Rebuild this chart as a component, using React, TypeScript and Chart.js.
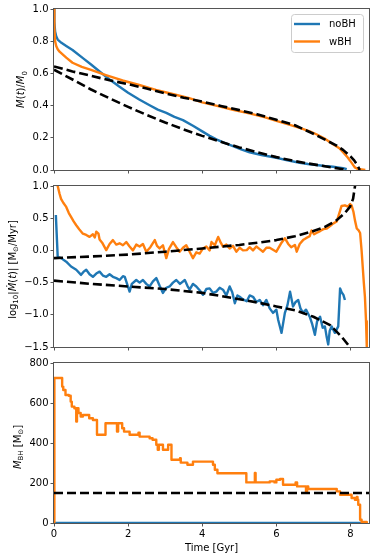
import React, { useEffect, useRef } from 'react';
import { Chart, registerables } from 'chart.js';

Chart.register(...registerables);

const BLUE = '#1f77b4';
const ORANGE = '#ff7f0e';
const DASH = '#000000';

const SERIES_NAMES = ['noBH', 'wBH'];
const TIME_TICKS = [0, 2, 4, 6, 8];
const MASS_TICKS = [0, 0.2, 0.4, 0.6, 0.8, 1.0];
const MDOT_TICKS = [-1.5, -1.0, -0.5, 0.0, 0.5, 1.0];
const MBH_TICKS = [0, 200, 400, 600, 800];

// Panel 1: M(t)/M0
const T_MASS_NOBH = [0, 0.01, 0.03, 0.06, 0.1, 0.2, 0.33, 0.5, 0.78, 1.0, 1.23, 1.5, 1.75, 2.0, 2.3, 2.58, 2.8, 3.03, 3.25, 3.48, 3.75, 4.0, 4.2, 4.38, 4.6, 4.83, 5.05, 5.28, 5.6, 6.0, 6.3, 6.63, 6.85, 7.08, 7.3, 7.53, 7.7, 7.8, 7.9];
const MASS_NOBH = [1.0, 0.92, 0.86, 0.83, 0.81, 0.79, 0.77, 0.745, 0.695, 0.655, 0.612, 0.562, 0.52, 0.48, 0.438, 0.402, 0.375, 0.355, 0.33, 0.31, 0.275, 0.24, 0.212, 0.19, 0.168, 0.148, 0.128, 0.11, 0.093, 0.076, 0.06, 0.045, 0.037, 0.031, 0.025, 0.02, 0.015, 0.012, 0.005];
const T_MASS_WBH = [0, 0.01, 0.03, 0.06, 0.1, 0.15, 0.33, 0.5, 0.75, 1.0, 1.4, 1.85, 2.3, 2.75, 3.2, 3.65, 4.0, 4.4, 4.83, 5.3, 5.7, 6.0, 6.3, 6.63, 6.9, 7.08, 7.3, 7.53, 7.7, 7.8, 7.9, 7.99, 8.06, 8.12, 8.2, 8.3, 8.4];
const MASS_WBH = [1.0, 0.88, 0.8, 0.77, 0.75, 0.735, 0.698, 0.666, 0.64, 0.622, 0.59, 0.556, 0.528, 0.498, 0.472, 0.446, 0.42, 0.398, 0.374, 0.35, 0.327, 0.305, 0.285, 0.262, 0.24, 0.222, 0.196, 0.16, 0.135, 0.11, 0.085, 0.058, 0.035, 0.016, 0.006, 0.003, 0.0];
const T_MASS_FIT_WBH = [0, 0.5, 1.0, 1.5, 2.0, 2.5, 3.0, 3.5, 4.0, 4.5, 5.0, 5.5, 6.0, 6.5, 7.0, 7.3, 7.6, 7.8, 8.0, 8.1, 8.2, 8.25];
const MASS_FIT_WBH = [0.643, 0.612, 0.585, 0.557, 0.533, 0.506, 0.476, 0.449, 0.425, 0.398, 0.372, 0.345, 0.312, 0.278, 0.225, 0.19, 0.155, 0.125, 0.085, 0.06, 0.025, 0.0];
const T_MASS_FIT_NOBH = [0, 0.5, 1.0, 1.5, 2.0, 2.5, 3.0, 3.5, 4.0, 4.5, 5.0, 5.5, 6.0, 6.5, 7.0, 7.5, 7.8, 7.9];
const MASS_FIT_NOBH = [0.623, 0.562, 0.5, 0.445, 0.392, 0.342, 0.295, 0.252, 0.212, 0.175, 0.14, 0.11, 0.08, 0.055, 0.035, 0.016, 0.005, 0.0];

// Panel 2: log10 |dM/dt|
const T_MDOT_WBH = [0.05, 0.1, 0.15, 0.19, 0.25, 0.33, 0.4, 0.46, 0.53, 0.6, 0.68, 0.78, 0.87, 0.96, 1.05, 1.1, 1.14, 1.2, 1.23, 1.3, 1.41, 1.5, 1.59, 1.68, 1.77, 1.86, 1.95, 2.04, 2.13, 2.22, 2.31, 2.4, 2.49, 2.6, 2.72, 2.78, 2.85, 2.94, 3.03, 3.1, 3.21, 3.3, 3.39, 3.48, 3.57, 3.66, 3.75, 3.84, 3.93, 4.02, 4.11, 4.2, 4.25, 4.34, 4.43, 4.5, 4.56, 4.65, 4.74, 4.83, 4.92, 5.01, 5.1, 5.2, 5.28, 5.37, 5.46, 5.55, 5.64, 5.73, 5.82, 5.91, 6.0, 6.05, 6.14, 6.23, 6.32, 6.4, 6.5, 6.55, 6.63, 6.72, 6.8, 6.9, 6.95, 7.02, 7.08, 7.18, 7.27, 7.36, 7.45, 7.54, 7.63, 7.7, 7.76, 7.85, 7.93, 7.99, 8.03, 8.08, 8.12, 8.17, 8.22, 8.26, 8.3, 8.33, 8.36, 8.39, 8.42, 8.44, 8.46];
const MDOT_WBH = [1.3, 1.0, 0.88, 0.8, 0.74, 0.675, 0.58, 0.52, 0.45, 0.39, 0.33, 0.26, 0.24, 0.21, 0.25, 0.2, 0.29, 0.26, 0.17, 0.12, 0.005, 0.1, 0.16, 0.09, 0.11, 0.08, 0.13, 0.06, 0.0, 0.09, 0.06, 0.1, -0.02, 0.05, 0.16, 0.07, 0.03, 0.08, -0.12, 0.02, 0.13, 0.05, -0.02, 0.04, 0.08, -0.02, -0.12, -0.03, -0.05, 0.03, 0.06, 0.0, 0.13, 0.08, 0.21, 0.12, 0.06, 0.09, 0.03, 0.07, -0.02, 0.04, 0.0, 0.005, 0.05, 0.0, 0.06, 0.02, -0.02, 0.04, 0.04, 0.01, -0.02, 0.03, 0.12, 0.19, 0.1, 0.05, 0.085, -0.02, 0.1, 0.16, 0.19, 0.22, 0.31, 0.25, 0.27, 0.3, 0.33, 0.34, 0.38, 0.42, 0.45, 0.58, 0.69, 0.7, 0.68, 0.72, 0.7, 0.6, 0.47, 0.34, 0.31, 0.27, 0.0, -0.25, -0.5, -0.72, -1.1, -1.49, -1.8];
const T_MDOT_NOBH = [0.05, 0.1, 0.19, 0.33, 0.46, 0.6, 0.73, 0.8, 0.87, 0.96, 1.05, 1.14, 1.23, 1.32, 1.41, 1.5, 1.59, 1.68, 1.77, 1.86, 1.91, 2.04, 2.1, 2.22, 2.31, 2.4, 2.49, 2.58, 2.67, 2.76, 2.85, 2.94, 3.03, 3.12, 3.21, 3.3, 3.4, 3.53, 3.6, 3.66, 3.75, 3.84, 3.93, 4.02, 4.11, 4.2, 4.29, 4.38, 4.47, 4.56, 4.65, 4.74, 4.81, 4.88, 4.95, 5.01, 5.1, 5.2, 5.28, 5.37, 5.46, 5.55, 5.64, 5.73, 5.82, 5.91, 6.0, 6.05, 6.14, 6.23, 6.3, 6.37, 6.45, 6.52, 6.59, 6.65, 6.72, 6.8, 6.9, 6.97, 7.04, 7.1, 7.18, 7.25, 7.31, 7.36, 7.4, 7.44, 7.49, 7.58, 7.67, 7.72, 7.76, 7.81, 7.85];
const MDOT_NOBH = [0.55, -0.1, -0.12, -0.175, -0.25, -0.3, -0.38, -0.33, -0.3, -0.37, -0.41, -0.36, -0.33, -0.39, -0.41, -0.37, -0.41, -0.43, -0.46, -0.4, -0.41, -0.64, -0.52, -0.46, -0.5, -0.46, -0.52, -0.56, -0.48, -0.43, -0.55, -0.66, -0.58, -0.56, -0.5, -0.46, -0.52, -0.46, -0.55, -0.61, -0.52, -0.56, -0.62, -0.69, -0.6, -0.59, -0.66, -0.64, -0.58, -0.61, -0.7, -0.56, -0.65, -0.82, -0.7, -0.72, -0.76, -0.79, -0.7, -0.72, -0.8, -0.77, -0.85, -0.77, -0.9, -0.97, -0.92, -1.08, -1.28, -0.97, -0.85, -0.64, -0.87, -0.8, -0.77, -0.9, -0.97, -0.92, -1.03, -1.15, -1.31, -1.1, -1.03, -1.2, -1.18, -1.35, -1.46, -1.25, -1.18, -1.28, -1.18, -0.59, -0.65, -0.69, -0.77];
const T_MDOT_FIT_WBH = [0, 1, 2, 3, 4, 5, 5.5, 6, 6.5, 7.0, 7.3, 7.63, 7.85, 7.99, 8.07, 8.12, 8.17, 8.2];
const MDOT_FIT_WBH = [-0.12, -0.095, -0.065, -0.02, 0.03, 0.085, 0.12, 0.16, 0.22, 0.3, 0.36, 0.47, 0.58, 0.68, 0.8, 0.99, 1.2, 1.4];
const T_MDOT_FIT_NOBH = [0, 1, 2, 3, 4, 4.83, 5.5, 6, 6.5, 7.0, 7.45, 7.76, 7.94, 8.05];
const MDOT_FIT_NOBH = [-0.47, -0.52, -0.56, -0.6, -0.66, -0.74, -0.81, -0.87, -0.93, -1.03, -1.16, -1.34, -1.47, -1.57];

// Panel 3: M_BH
const T_MBH_WBH = [0, 0.01, 0.22, 0.25, 0.31, 0.4, 0.45, 0.48, 0.55, 0.6, 0.62, 0.66, 0.72, 0.78, 0.95, 1.05, 1.16, 1.39, 1.7, 1.73, 1.84, 1.89, 2.04, 2.28, 2.31, 2.58, 2.66, 2.76, 2.8, 2.83, 2.94, 3.08, 3.15, 3.17, 3.4, 3.42, 3.6, 3.75, 4.29, 4.34, 4.41, 5.19, 5.42, 5.44, 5.82, 5.95, 6.0, 6.1, 6.18, 6.52, 6.56, 6.8, 6.83, 6.86, 7.63, 7.72, 8.03, 8.12, 8.17, 8.19, 8.21, 8.26, 8.3, 8.44];
const MBH_WBH = [0, 725, 682, 665, 640, 636, 607, 582, 574, 507, 574, 550, 532, 540, 524, 515, 441, 499, 457, 499, 474, 457, 441, 452, 432, 424, 416, 391, 366, 391, 366, 391, 391, 316, 324, 302, 291, 307, 291, 266, 249, 203, 250, 203, 208, 203, 216, 220, 191, 203, 183, 158, 183, 170, 158, 141, 125, 116, 130, 116, 91, 16, 5, 0];
const T_MBH_NOBH = [0, 8.3];
const MBH_NOBH = [0, 0];
const T_MBH_REF = [0, 8.5];
const MBH_REF = [150, 150];

const pts = (xs: number[], ys: number[]) => xs.map((x, i) => ({ x, y: ys[i] }));

const FONT = '"DejaVu Sans", sans-serif';

type Seg = { t: string; i?: boolean; s?: boolean };

function line(data: { x: number; y: number }[], color: string, order: number, dashed = false, stepped = false) {
  return {
    data,
    borderColor: color,
    backgroundColor: color,
    borderWidth: dashed ? 2.6 : 2.4,
    borderDash: dashed ? [9, 4] : [],
    pointRadius: 0,
    tension: 0,
    fill: false,
    stepped: stepped ? true : false,
    order,
    borderJoinStyle: 'round' as const,
  };
}

function makeChart(canvas: HTMLCanvasElement, spec: any) {
  const framePlugin = {
    id: 'frame',
    afterDatasetsDraw(chart: any) {
      const { ctx, chartArea: a } = chart;
      ctx.save();
      ctx.strokeStyle = '#555';
      ctx.lineWidth = 1;
      ctx.setLineDash([]);
      ctx.strokeRect(a.left - 0.5, a.top - 0.5, a.right - a.left + 1, a.bottom - a.top + 1);
      ctx.restore();
    },
  };
  const titlePlugin = {
    id: 'ytitle',
    afterDraw(chart: any) {
      const { ctx, chartArea: a } = chart;
      const segs: Seg[] = spec.title;
      const fontFor = (s: Seg) => `${s.i ? 'italic ' : ''}${s.s ? 7 : 10}px ${FONT}`;
      ctx.save();
      let total = 0;
      const widths = segs.map((s) => {
        ctx.font = fontFor(s);
        const w = ctx.measureText(s.t).width;
        total += w;
        return w;
      });
      const cy = (a.top + a.bottom) / 2 + spec.titleDy;
      ctx.translate(spec.titleX, cy);
      ctx.rotate(-Math.PI / 2);
      ctx.fillStyle = '#000';
      ctx.textBaseline = 'alphabetic';
      ctx.textAlign = 'left';
      let x = -total / 2;
      segs.forEach((s, i) => {
        ctx.font = fontFor(s);
        ctx.fillText(s.t, x, s.s ? 2.2 : 0);
        x += widths[i];
      });
      ctx.restore();
    },
  };
  const legendPlugin = {
    id: 'mplLegend',
    afterDraw(chart: any) {
      if (!spec.legend) return;
      const { ctx, chartArea: a } = chart;
      const x0 = a.right - 78, y0 = a.top + 5, w = 72, h = 38;
      ctx.save();
      ctx.beginPath();
      ctx.roundRect(x0 + 0.5, y0 + 0.5, w, h, 3);
      ctx.fillStyle = 'rgba(255,255,255,0.8)';
      ctx.fill();
      ctx.strokeStyle = '#cccccc';
      ctx.lineWidth = 1;
      ctx.stroke();
      const colors = [BLUE, ORANGE];
      SERIES_NAMES.forEach((name, i) => {
        const yy = y0 + 10 + i * 17.5;
        ctx.beginPath();
        ctx.moveTo(x0 + 3, yy);
        ctx.lineTo(x0 + 29, yy);
        ctx.strokeStyle = colors[i];
        ctx.lineWidth = 2.4;
        ctx.stroke();
        ctx.fillStyle = '#000';
        ctx.font = `10px ${FONT}`;
        ctx.textBaseline = 'middle';
        ctx.fillText(name, x0 + 38, yy + 0.5);
      });
      ctx.restore();
    },
  };

  const tickGrid = { display: true, drawOnChartArea: false, drawTicks: true, tickLength: 3.5, color: '#555', lineWidth: 1 };

  return new Chart(canvas, {
    type: 'line',
    data: { datasets: spec.datasets },
    options: {
      animation: false,
      responsive: false,
      devicePixelRatio: 1,
      layout: { padding: { top: spec.padTop, right: 5, left: 0, bottom: 0 }, autoPadding: false },
      plugins: { legend: { display: false }, tooltip: { enabled: false } },
      scales: {
        x: {
          type: 'linear',
          min: 0,
          max: 8.5,
          afterBuildTicks: (ax: any) => {
            ax.ticks = TIME_TICKS.map((v) => ({ value: v }));
          },
          afterFit: (ax: any) => {
            ax.height = spec.xAxisH;
          },
          grid: tickGrid,
          border: { display: false },
          ticks: {
            display: spec.showX,
            padding: 2,
            color: '#000',
            font: { family: FONT, size: 10 },
            autoSkip: false,
            maxRotation: 0,
            callback: (v: any) => String(v),
          },
          title: {
            display: spec.showX,
            text: 'Time [Gyr]',
            color: '#000',
            font: { family: FONT, size: 10 },
            padding: { top: 2, bottom: 4 },
          },
        },
        y: {
          type: 'linear',
          min: spec.yMin,
          max: spec.yMax,
          afterBuildTicks: (ax: any) => {
            ax.ticks = spec.yTicks.map((v: number) => ({ value: v }));
          },
          afterFit: (ax: any) => {
            ax.width = 54;
          },
          grid: tickGrid,
          border: { display: false },
          ticks: {
            padding: 2,
            color: '#000',
            font: { family: FONT, size: 10 },
            autoSkip: false,
            callback: spec.yFmt,
          },
        },
      },
    },
    plugins: [framePlugin, titlePlugin, legendPlugin],
  } as any);
}

const fmt1 = (v: any) => {
  const n = Number(v);
  return n < 0 ? '\u2212' + Math.abs(n).toFixed(1) : n.toFixed(1);
};

export default function App() {
  const c1 = useRef<HTMLCanvasElement>(null);
  const c2 = useRef<HTMLCanvasElement>(null);
  const c3 = useRef<HTMLCanvasElement>(null);

  useEffect(() => {
    const charts: Chart[] = [];
    charts.push(
      makeChart(c1.current!, {
        padTop: 9,
        xAxisH: 7,
        showX: false,
        yMin: 0,
        yMax: 1,
        yTicks: MASS_TICKS,
        yFmt: fmt1,
        legend: true,
        titleX: 24.3,
        titleDy: 0,
        title: [{ t: 'M', i: true }, { t: '(' }, { t: 't', i: true }, { t: ')/' }, { t: 'M', i: true }, { t: '0', s: true }],
        datasets: [
          line(pts(T_MASS_NOBH, MASS_NOBH), BLUE, 3),
          line(pts(T_MASS_WBH, MASS_WBH), ORANGE, 2),
          line(pts(T_MASS_FIT_WBH, MASS_FIT_WBH), DASH, 1, true),
          line(pts(T_MASS_FIT_NOBH, MASS_FIT_NOBH), DASH, 1, true),
        ],
      })
    );
    charts.push(
      makeChart(c2.current!, {
        padTop: 8,
        xAxisH: 8,
        showX: false,
        yMin: -1.5,
        yMax: 1.0,
        yTicks: MDOT_TICKS,
        yFmt: fmt1,
        legend: false,
        titleX: 16,
        titleDy: 3,
        title: [
          { t: 'log' },
          { t: '10', s: true },
          { t: '|' },
          { t: '\u1E40', i: true },
          { t: '(' },
          { t: 't', i: true },
          { t: ')| [M' },
          { t: '\u2299', s: true },
          { t: '/Myr]' },
        ],
        datasets: [
          line(pts(T_MDOT_NOBH, MDOT_NOBH), BLUE, 3),
          line(pts(T_MDOT_WBH, MDOT_WBH), ORANGE, 2),
          line(pts(T_MDOT_FIT_WBH, MDOT_FIT_WBH), DASH, 1, true),
          line(pts(T_MDOT_FIT_NOBH, MDOT_FIT_NOBH), DASH, 1, true),
        ],
      })
    );
    charts.push(
      makeChart(c3.current!, {
        padTop: 8,
        xAxisH: 35,
        showX: true,
        yMin: 0,
        yMax: 800,
        yTicks: MBH_TICKS,
        yFmt: (v: any) => String(v),
        legend: false,
        titleX: 21,
        titleDy: 4,
        title: [{ t: 'M', i: true }, { t: 'BH', s: true }, { t: ' [M' }, { t: '\u2299', s: true }, { t: ']' }],
        datasets: [
          line(pts(T_MBH_NOBH, MBH_NOBH), BLUE, 3),
          line(pts(T_MBH_WBH, MBH_WBH), ORANGE, 2, false, true),
          line(pts(T_MBH_REF, MBH_REF), DASH, 1, true),
        ],
      })
    );
    return () => charts.forEach((c) => c.destroy());
  }, []);

  const cs = { position: 'absolute' as const, left: 0, display: 'block' };
  return (
    <div style={{ position: 'absolute', left: 0, top: 0, width: 374, height: 558, background: '#fff', overflow: 'hidden' }}>
      <canvas ref={c1} width={374} height={178} style={{ ...cs, top: 0, width: 374, height: 178 }} />
      <canvas ref={c2} width={374} height={177} style={{ ...cs, top: 178, width: 374, height: 177 }} />
      <canvas ref={c3} width={374} height={203} style={{ ...cs, top: 355, width: 374, height: 203 }} />
    </div>
  );
}
